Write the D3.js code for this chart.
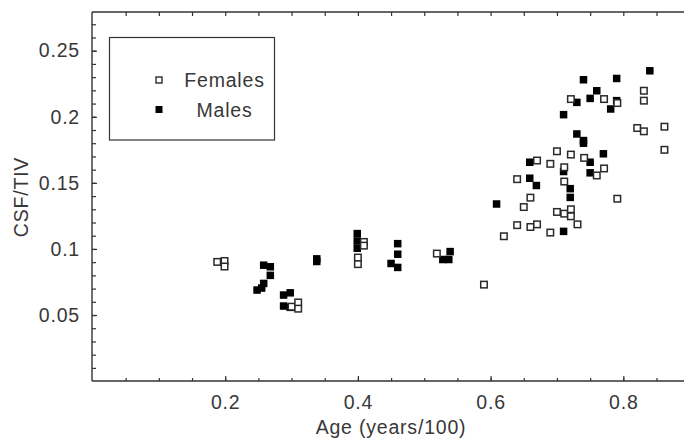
<!DOCTYPE html>
<html>
<head>
<meta charset="utf-8">
<script src="https://cdn.jsdelivr.net/npm/d3@7"></script>
<style>
  html, body { margin: 0; padding: 0; background: #fff; }
  svg { display: block; }
  text { font-family: "Liberation Sans", Arial, sans-serif; font-size: 19.5px; fill: #383838; letter-spacing: 0.8px; }
</style>
</head>
<body>
<svg id="chart" width="684" height="438"></svg>
<script>
// ---- Data ----
const femalesAge = [0.188,0.199,0.199, 0.300,0.310,0.310, 0.400,0.400,0.409,0.409, 0.519, 0.590, 0.620,
  0.640,0.660,0.670,0.650,0.660, 0.640, 0.690, 0.700,0.711,0.721,0.721,0.731,
  0.670,0.690,0.700,0.711,0.711, 0.721,0.741,0.760,0.771, 0.791,
  0.721,0.771,0.791, 0.831,0.831, 0.821,0.831,0.862,0.862];
const femalesCSF = [0.0902,0.0909,0.0867, 0.0563,0.0595,0.0548, 0.0935,0.0885,0.1053,0.1025, 0.0965, 0.073, 0.1096,
  0.118,0.1166,0.1186,0.1317,0.1388, 0.1528, 0.1124, 0.128,0.1267,0.130,0.1247,0.1186,
  0.1669,0.1644,0.1739,0.1618,0.151, 0.1714,0.1689,0.1556,0.1609, 0.138,
  0.2134,0.2134,0.2104, 0.2197,0.2122, 0.1915,0.189,0.1925,0.175];

const malesAge = [0.258,0.268,0.268,0.258,0.248,0.255, 0.288,0.298,0.288,0.298, 0.338,0.338,
  0.399,0.399,0.399, 0.460,0.460,0.450,0.460, 0.539,0.528,0.537, 0.609,
  0.669,0.659,0.659, 0.710, 0.720,0.720, 0.710, 0.750,0.750,0.770,
  0.730,0.740,0.740, 0.710, 0.740,0.790,0.840, 0.760,0.730,0.750,0.790,0.781];
const malesCSF = [0.0877,0.0865,0.080,0.0739,0.0689,0.0704, 0.0651,0.0668,0.0568,0.0558, 0.0905,0.0925,
  0.1116,0.106,0.1005, 0.104,0.096,0.089,0.086, 0.098,0.092,0.092, 0.134,
  0.148,0.1535,0.1656, 0.1133, 0.139,0.1456, 0.1586, 0.1656,0.1576,0.172,
  0.187,0.182,0.180, 0.2016, 0.228,0.229,0.2348, 0.2197,0.2109,0.2139,0.2122,0.2059];

const xMajorTicks = [0.2, 0.4, 0.6, 0.8];
const xTickLabels = ["0.2", "0.4", "0.6", "0.8"];
const yMajorTicks = [0.05, 0.1, 0.15, 0.2, 0.25];
const yTickLabels = ["0.05", "0.1", "0.15", "0.2", "0.25"];
const legendLabels = ["Females", "Males"];
const xTitle = "Age (years/100)";
const yTitle = "CSF/TIV";

// ---- Layout ----
const frame = { left: 92, top: 12, right: 700, bottom: 381 };
const svg = d3.select("#chart");
const x = d3.scaleLinear().domain([0, 0.8]).range([92.5, 623.3]);
const y = d3.scaleLinear().domain([0, 0.25]).range([381.1, 50.7]);

const xMinor = d3.range(1, 18).map(i => +(i * 0.05).toFixed(2));
const yMinor = d3.range(1, 28).map(i => +(i * 0.01).toFixed(2));

const axisColor = "#333";

function styleAxis(g) {
  g.select(".domain").remove();
  g.selectAll(".tick line").attr("stroke", axisColor).attr("stroke-width", 1.2);
}
function clearText(g) {
  g.selectAll("text").attr("font-size", null).attr("font-family", null).attr("fill", null);
}

svg.append("g").attr("transform", `translate(0,${frame.bottom})`)
  .call(d3.axisBottom(x).tickValues(xMinor).tickSize(-3).tickFormat(""))
  .call(styleAxis);
svg.append("g").attr("transform", `translate(0,${frame.bottom})`)
  .call(d3.axisBottom(x).tickValues(xMajorTicks).tickSize(-5).tickPadding(14)
        .tickFormat((d, i) => xTickLabels[i]))
  .call(styleAxis).call(clearText);
svg.append("g").attr("transform", `translate(0,${frame.top})`)
  .call(d3.axisTop(x).tickValues(xMinor).tickSize(-4).tickFormat(""))
  .call(styleAxis);
svg.append("g").attr("transform", `translate(${frame.left},0)`)
  .call(d3.axisLeft(y).tickValues(yMinor).tickSize(-4).tickFormat(""))
  .call(styleAxis);
svg.append("g").attr("transform", `translate(${frame.left},0)`)
  .call(d3.axisLeft(y).tickValues(yMajorTicks).tickSize(-5).tickPadding(12)
        .tickFormat((d, i) => yTickLabels[i]))
  .call(styleAxis).call(clearText);

// frame
const fr = svg.append("g").attr("stroke", axisColor).attr("stroke-width", 1.4).attr("fill", "none");
fr.append("line").attr("x1", frame.left).attr("x2", frame.left).attr("y1", frame.top).attr("y2", frame.bottom);
fr.append("line").attr("x1", frame.left).attr("x2", frame.right).attr("y1", frame.top).attr("y2", frame.top);
fr.append("line").attr("x1", frame.left).attr("x2", frame.right).attr("y1", frame.bottom).attr("y2", frame.bottom);

// axis titles
svg.append("text").attr("x", 391).attr("y", 434).attr("text-anchor", "middle").text(xTitle);
svg.append("text").attr("transform", "translate(28,197) rotate(-90)").attr("text-anchor", "middle").text(yTitle);

// points
const males = malesAge.map((a, i) => ({ a, v: malesCSF[i] }));
const females = femalesAge.map((a, i) => ({ a, v: femalesCSF[i] }));
const S = 7.5;
const SO = 6.5;
svg.append("g").selectAll("rect").data(males).join("rect")
  .attr("x", d => x(d.a) - S / 2).attr("y", d => y(d.v) - S / 2)
  .attr("width", S).attr("height", S).attr("fill", "#000");
svg.append("g").selectAll("rect").data(females).join("rect")
  .attr("x", d => x(d.a) - SO / 2).attr("y", d => y(d.v) - SO / 2)
  .attr("width", SO).attr("height", SO)
  .attr("fill", "#fff").attr("stroke", "#2a2a2a").attr("stroke-width", 1.5);

// legend
const lg = svg.append("g");
lg.append("rect").attr("x", 109.5).attr("y", 37.5).attr("width", 165).attr("height", 102.5)
  .attr("fill", "#fff").attr("stroke", axisColor).attr("stroke-width", 1.2);
lg.append("rect").attr("x", 159 - 3).attr("y", 80 - 3).attr("width", 6).attr("height", 6)
  .attr("fill", "#fff").attr("stroke", "#2a2a2a").attr("stroke-width", 1.4);
lg.append("rect").attr("x", 159 - 3.5).attr("y", 109.5 - 3.5).attr("width", 7).attr("height", 7)
  .attr("fill", "#000");
lg.append("text").attr("x", 224.5).attr("y", 86.5).attr("text-anchor", "middle").text(legendLabels[0]);
lg.append("text").attr("x", 224.5).attr("y", 116.5).attr("text-anchor", "middle").text(legendLabels[1]);
</script>
</body>
</html>
